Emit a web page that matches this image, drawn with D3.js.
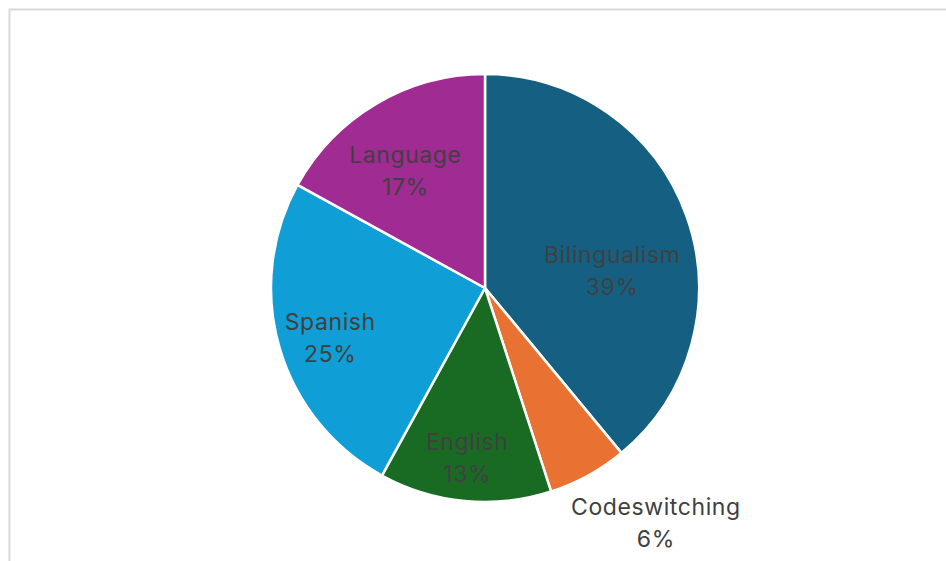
<!DOCTYPE html>
<html>
<head>
<meta charset="utf-8">
<script src="https://cdn.jsdelivr.net/npm/d3@7/dist/d3.min.js"></script>
<style>
  html, body { margin: 0; padding: 0; background: #fff; }
  svg { display: block; }
</style>
</head>
<body>
<svg id="chart" width="946" height="561"></svg>
<script>
// Share of topics, clockwise from 12 o'clock
const categories = ["Bilingualism", "Codeswitching", "English", "Spanish", "Language"];
const shares = [39, 6, 13, 25, 17];
const colors = ["#156082", "#E97132", "#196B24", "#0F9ED5", "#A02B93"];

const W = 946, H = 561;
const cx = 485, cy = 288, R = 214;

const svg = d3.select("#chart");

// Chart-area frame
svg.append("rect")
  .attr("x", 9.5).attr("y", 9.5)
  .attr("width", W + 20).attr("height", H + 20)
  .attr("fill", "#fff")
  .attr("stroke", "#d9d9d9")
  .attr("stroke-width", 2);

const data = categories.map((c, i) => ({ name: c, value: shares[i], color: colors[i] }));

const pie = d3.pie().value(d => d.value).sort(null);
const arcs = pie(data);
const arc = d3.arc().innerRadius(0).outerRadius(R);

const g = svg.append("g").attr("transform", `translate(${cx},${cy})`);

g.selectAll("path.slice")
  .data(arcs)
  .join("path")
  .attr("class", "slice")
  .attr("d", arc)
  .attr("fill", d => d.data.color)
  .attr("stroke", "#fff")
  .attr("stroke-width", 2.5)
  .attr("stroke-linejoin", "round");

// Label placement: radius as a fraction of R and angle shift (radians) from slice middle
const labelLayout = {
  "Bilingualism": { r: 0.60, shift: 0.21 },
  "Codeswitching": { r: 1.358, shift: -0.126 },
  "English": { r: 0.80, shift: 0.01 },
  "Spanish": { r: 0.76, shift: -0.03 },
  "Language": { r: 0.66, shift: -0.065 }
};

const lineGap = 32;
const labels = g.selectAll("g.label")
  .data(arcs)
  .join("g")
  .attr("class", "label")
  .attr("transform", d => {
    const L = labelLayout[d.data.name];
    const a = (d.startAngle + d.endAngle) / 2 + L.shift;
    const r = R * L.r;
    return `translate(${r * Math.sin(a)},${-r * Math.cos(a)})`;
  });

labels.append("text")
  .attr("text-anchor", "middle")
  .attr("font-family", "Inter, 'Noto Sans', sans-serif")
  .attr("font-size", 23)
  .attr("letter-spacing", 0.6)
  .attr("fill", "#404040")
  .selectAll("tspan")
  .data(d => [d.data.name, d3.format(".0%")(d.value / d3.sum(shares))])
  .join("tspan")
  .attr("x", 0)
  .attr("y", (t, i) => (i === 0 ? -lineGap / 2 : lineGap / 2) + 8)
  .text(t => t);
</script>
</body>
</html>
